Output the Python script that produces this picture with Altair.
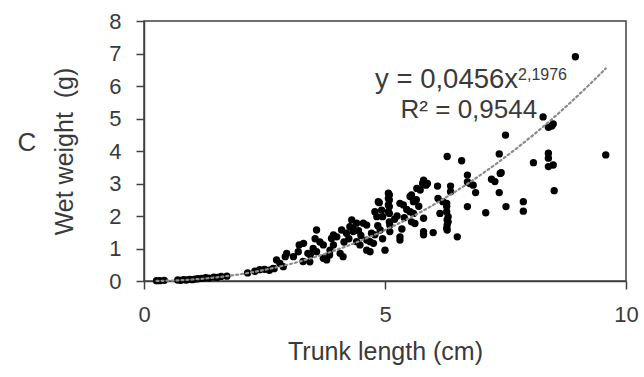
import altair as alt
import pandas as pd
import numpy as np

# Trunk length (cm) and wet weight (g)
trunk_length = [
    0.26, 0.33, 0.42, 0.70, 0.76, 0.82, 0.88, 0.95, 1.00, 1.06, 1.12, 1.20, 1.28, 1.35, 1.45, 1.52, 1.60, 1.72,
    2.15, 2.30, 2.40, 2.50, 2.60, 2.68, 2.70, 2.75, 2.82, 2.89, 2.93, 2.96,
    3.10, 3.20, 3.22, 3.30, 3.31, 3.40, 3.44, 3.45, 3.51, 3.55, 3.58, 3.58, 3.65, 3.72, 3.72, 3.79, 3.85, 3.86,
    3.89, 3.93, 3.93, 4.00,
    4.07, 4.10, 4.13, 4.15, 4.20, 4.25, 4.27, 4.31, 4.34, 4.34, 4.41, 4.41, 4.45, 4.48, 4.50, 4.55, 4.62, 4.62,
    4.62, 4.69, 4.69, 4.72, 4.76, 4.79, 4.79, 4.83, 4.85, 4.86, 4.88, 4.90, 4.93, 4.95, 4.95, 5.00,
    5.07, 5.07, 5.07, 5.07, 5.09, 5.09, 5.09, 5.09, 5.09, 5.10, 5.10, 5.20, 5.25, 5.31, 5.31, 5.31, 5.35, 5.38,
    5.40, 5.45, 5.52, 5.52, 5.55, 5.55, 5.59, 5.59, 5.62, 5.65, 5.66, 5.70, 5.73, 5.78, 5.80, 5.80, 5.80, 5.80,
    5.85, 5.88, 6.00,
    6.09, 6.10, 6.14, 6.20, 6.28, 6.28, 6.28, 6.28, 6.29, 6.29, 6.29, 6.29, 6.31, 6.31, 6.36, 6.36, 6.50, 6.59,
    6.71, 6.71, 6.71, 6.76, 6.83, 6.88, 7.09,
    7.21, 7.28, 7.37, 7.37, 7.39, 7.41, 7.50, 7.51, 7.87, 7.87,
    8.08, 8.28, 8.39, 8.39, 8.39, 8.39, 8.46, 8.49, 8.49, 8.51, 8.95, 9.58,
]
wet_weight = [
    0.01, 0.01, 0.02, 0.03, 0.02, 0.04, 0.03, 0.05, 0.04, 0.06, 0.07, 0.08, 0.10, 0.09, 0.12, 0.11, 0.14, 0.15,
    0.25, 0.30, 0.35, 0.36, 0.33, 0.39, 0.38, 0.65, 0.54, 0.44, 0.75, 0.85,
    0.75, 0.90, 1.11, 0.60, 1.16, 0.85, 0.59, 0.80, 1.00, 1.30, 0.90, 1.57, 1.20, 0.70, 1.11, 0.65, 0.80, 0.95,
    1.31, 1.11, 1.42, 1.36,
    0.85, 1.57, 0.75, 1.20, 1.47, 1.30, 1.67, 1.88, 1.52, 1.62, 1.78, 1.21, 1.55, 1.11, 1.40, 1.78, 1.72, 1.26,
    0.95, 1.21, 0.90, 1.47, 1.16, 1.42, 2.13, 1.98, 1.70, 2.44, 2.41, 1.57, 2.18, 1.98, 1.30, 0.95,
    2.70, 2.54, 2.34, 2.13, 2.65, 2.49, 2.29, 2.08, 1.82, 1.72, 1.52, 1.90, 2.00, 2.39, 1.36, 1.26, 1.60, 2.34,
    1.95, 2.20, 2.13, 2.60, 2.65, 1.82, 2.44, 2.08, 1.77, 2.50, 2.85, 2.30, 2.80, 3.00, 3.10, 1.93, 1.52, 1.42,
    2.95, 3.00, 1.49,
    2.92, 2.54, 2.08, 2.44, 2.39, 2.29, 2.13, 1.62, 3.83, 1.88, 1.72, 1.57, 1.98, 1.82, 2.92, 2.75, 1.36, 3.70,
    3.26, 3.05, 2.29, 3.00, 2.95, 2.72, 2.10,
    3.13, 3.06, 3.91, 2.72, 3.31, 3.33, 4.49, 2.29, 2.44, 2.15,
    3.64, 5.05, 4.73, 3.93, 3.78, 3.52, 4.77, 4.83, 3.57, 2.78, 6.90, 3.88,
]

# Power trendline shown on the chart: y = 0,0456 x^2,1976
fit_a = 0.0456
fit_b = 2.1976

y_ticks = [0, 1, 2, 3, 4, 5, 6, 7, 8]
x_ticks = [0, 5, 10]

eq_main = ["y = 0,0456x"]
eq_sup = ["2,1976"]
eq_r2 = ["R² = 0,9544"]

FONT = "Liberation Sans"
TXT = "#3a3a3a"

df = pd.DataFrame({"x": trunk_length, "y": wet_weight})
fx = np.linspace(min(trunk_length), max(trunk_length), 150)
trend = pd.DataFrame({"x": fx, "y": fit_a * fx ** fit_b})

xscale = alt.Scale(domain=[0, 10], nice=False, zero=True)
yscale = alt.Scale(domain=[0, 8], nice=False)

xaxis = alt.Axis(
    values=x_ticks, title="Trunk length (cm)", grid=False,
    tickSize=8, tickWidth=1.5, tickColor="#404040",
    domainColor="#404040", domainWidth=1.5,
    labelFont=FONT, labelFontSize=22, labelColor=TXT, labelPadding=15,
    labelOverlap=False, labelFlush=False,
    titleFont=FONT, titleFontSize=25, titleColor=TXT, titleFontWeight="normal", titlePadding=14,
)
yaxis = alt.Axis(
    values=y_ticks, tickCount=9, title="Wet weight\u00a0 (g)", grid=False,
    tickSize=8, tickWidth=1.5, tickColor="#404040",
    domainColor="#404040", domainWidth=1.5,
    labelFont=FONT, labelFontSize=22, labelColor=TXT, labelPadding=15,
    labelOverlap=False, labelFlush=False,
    titleFont=FONT, titleFontSize=25, titleColor=TXT, titleFontWeight="normal", titlePadding=31,
)

X = alt.X("x:Q", scale=xscale, axis=xaxis)
Y = alt.Y("y:Q", scale=yscale, axis=yaxis)

points = alt.Chart(df).mark_circle(size=54, opacity=1, color="#000000").encode(x=X, y=Y)

line = alt.Chart(trend).mark_line(
    color="#8c8c8c", strokeWidth=2.2, strokeDash=[2, 3], strokeCap="round"
).encode(x=X, y=Y)

t1 = alt.Chart(pd.DataFrame({"x": [7.76], "y": [6.18], "t": eq_main})).mark_text(
    align="right", baseline="middle", font=FONT, fontSize=27.5, color=TXT
).encode(x=X, y=Y, text="t:N")
t2 = alt.Chart(pd.DataFrame({"x": [7.76], "y": [6.34], "t": eq_sup})).mark_text(
    align="left", baseline="middle", font=FONT, fontSize=16, color=TXT
).encode(x=X, y=Y, text="t:N")
t3 = alt.Chart(pd.DataFrame({"x": [6.74], "y": [5.27], "t": eq_r2})).mark_text(
    align="center", baseline="middle", font=FONT, fontSize=26, color=TXT
).encode(x=X, y=Y, text="t:N")
panel = alt.Chart(pd.DataFrame({"t": ["C"]})).mark_text(
    align="center", baseline="middle", font=FONT, fontSize=26, color=TXT
).encode(x=alt.value(-117), y=alt.value(122), text="t:N")

chart = alt.layer(points, line, t1, t2, t3, panel).properties(
    width=482, height=260,
    padding={"left": 144, "top": 21, "right": 18, "bottom": 96},
    autosize="none",
).configure_view(stroke="#404040", strokeWidth=1.5)

chart.save("out.html", embed_options={"renderer": "svg", "actions": False})
